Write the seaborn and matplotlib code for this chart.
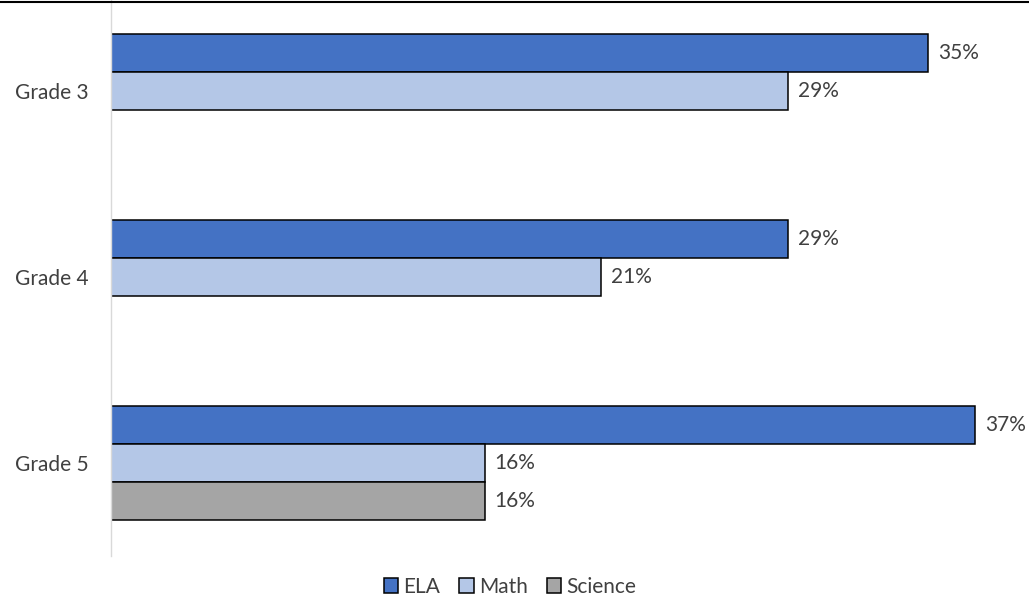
import numpy as np
import pandas as pd
import seaborn as sns
import matplotlib.pyplot as plt

GRADES = ['Grade 3', 'Grade 4', 'Grade 5']
SUBJECTS = ['ELA', 'Math', 'Science']
ELA = [35, 29, 37]
MATH = [29, 21, 16]
SCIENCE = [np.nan, np.nan, 16]
COLORS = ['#4472C4', '#B4C7E7', '#A5A5A5']
TEXT = '#404040'

df = pd.DataFrame({
    'grade': GRADES * 3,
    'subject': [s for s in SUBJECTS for _ in GRADES],
    'value': ELA + MATH + SCIENCE,
})

sns.set_style('white')
plt.rcParams['font.family'] = ['Lato', 'DejaVu Sans']

fig = plt.figure(figsize=(10.29, 5.97), dpi=100)
W, H = 1029, 597
ax = fig.add_axes([111 / W, (H - 556) / H, (W - 111) / W, 558 / H])

sns.barplot(data=df, y='grade', x='value', hue='subject', order=GRADES,
            hue_order=SUBJECTS, palette=COLORS, saturation=1, orient='h',
            width=0.613, edgecolor='black', linewidth=1.1, ax=ax, legend=True)

for cont in ax.containers:
    labels = ['' if np.isnan(v) else f'{v:.0f}%' for v in cont.datavalues]
    ax.bar_label(cont, labels=labels, padding=7, fontsize=15, color=TEXT)

ax.set_xlim(0, (W - 111) / 23.35)
ax.set_ylim(2.5, -0.5)
ax.set_xlabel('')
ax.set_ylabel('')
ax.set_xticks([])
ax.tick_params(axis='y', length=0, pad=16, labelsize=15, labelcolor=TEXT)
for side in ['top', 'right', 'bottom']:
    ax.spines[side].set_visible(False)
ax.spines['left'].set_color('#D9D9D9')
ax.spines['left'].set_linewidth(1)

handles, labs = ax.get_legend_handles_labels()
ax.legend(handles, labs, loc='center', bbox_to_anchor=(510 / W, (H - 587) / H),
          bbox_transform=fig.transFigure, ncol=3, frameon=False, fontsize=15,
          handlelength=0.7, handleheight=0.7, handletextpad=0.25,
          columnspacing=0.9, labelcolor=TEXT, borderaxespad=0, borderpad=0)

# thin border left from the cropped table above
fig.add_artist(plt.Line2D([0, 1], [1 - 1.5 / H, 1 - 1.5 / H], color='black',
                          linewidth=1.5, transform=fig.transFigure))

fig.savefig('out.png', dpi=100)
